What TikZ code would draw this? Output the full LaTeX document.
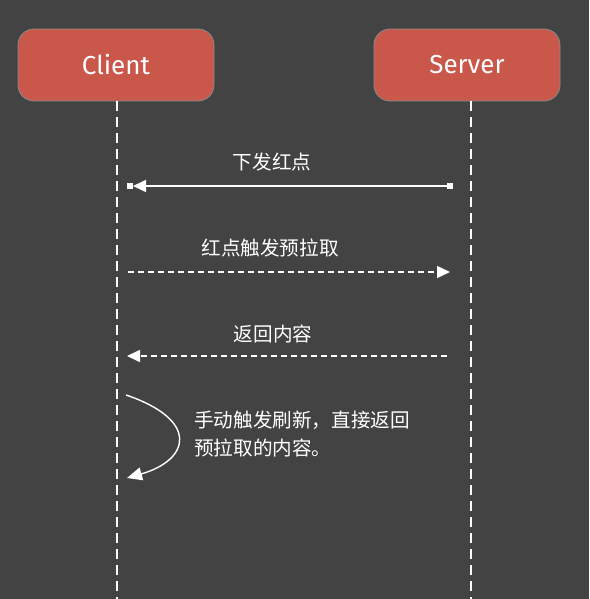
\documentclass[tikz,border=0pt]{standalone}
\usepackage{fontspec}
\setmainfont{Fira Sans}
\newfontfamily\cjk{Noto Sans CJK SC}
\usetikzlibrary{arrows.meta,calc}
\definecolor{bg}{HTML}{434343}
\definecolor{boxred}{HTML}{C9574A}
\definecolor{boxline}{HTML}{8A8A8A}
\begin{document}
\begin{tikzpicture}[x=1pt,y=-1pt,
  actor/.style={draw=boxline,line width=0.8pt,fill=boxred,rounded corners=16pt,
    text=white,font=\fontsize{26}{30}\selectfont,inner sep=0pt},
  life/.style={draw=white,line width=1.3pt,dash pattern=on 10pt off 6pt},
  msg/.style={draw=white,line width=1.6pt},
  dmsg/.style={msg,dash pattern=on 6pt off 4pt},
  tip/.style={-{Triangle[length=13pt,width=12pt]}},
  lbl/.style={text=white,font=\cjk\fontsize{19.6}{28}\selectfont,inner sep=0pt}]
\fill[bg] (0,0) rectangle (589,599);
\useasboundingbox (0,0) rectangle (589,599);
% actors
\node[actor,minimum width=196pt,minimum height=72pt] (client) at (116,65) {Client};
\node[actor,minimum width=186pt,minimum height=72pt] (server) at (467,65) {Server};
% lifelines
\coordinate (cend) at (117,599);
\coordinate (send) at (471,599);
\draw[life] (client.south -| cend) -- (cend);
\draw[life] (server.south -| send) -- (send);
% message 1
\coordinate (m1s) at (450,186);
\coordinate (m1e) at (133,186);
\draw[msg,tip] (m1s) -- (m1e);
\fill[white] ($(m1s)+(-3,-3)$) rectangle ($(m1s)+(3,3)$);
\fill[white] (127,183) rectangle (133,189);
\node[lbl] (l1) at (272,162) {下发红点};
% message 2
\coordinate (m2s) at (128,272);
\coordinate (m2e) at (450,272);
\draw[dmsg,tip] (m2s) -- (m2e);
\node[lbl] (l2) at (270,248) {红点触发预拉取};
% message 3
\coordinate (m3s) at (447,356);
\coordinate (m3e) at (127,356);
\draw[dmsg,tip] (m3s) -- (m3e);
\node[lbl] (l3) at (273,334) {返回内容};
% self message
\coordinate (c1) at (126,395);
\coordinate (c2) at (127,478);
\draw[msg,line width=1.4pt,-{Triangle[length=15pt,width=13pt]}] (c1) .. controls (200,420) and (190,460) .. (c2);
\node[lbl,align=left,anchor=west] (l4) at (194,434) {手动触发刷新，直接返回\\预拉取的内容。};
\end{tikzpicture}
\end{document}
